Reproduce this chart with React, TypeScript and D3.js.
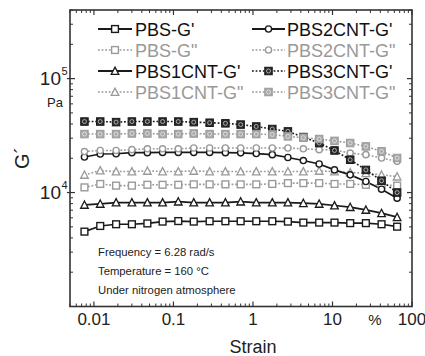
import React from "react";
import * as d3 from "d3";

const strain = [0.0076, 0.012, 0.019, 0.03, 0.047, 0.073, 0.115, 0.18, 0.285, 0.45, 0.7, 1.1, 1.75, 2.75, 4.3, 6.8, 10.6, 16.7, 26.3, 41.4, 65];

const PBS_Gp = [4540, 5090, 5270, 5270, 5360, 5560, 5620, 5560, 5600, 5600, 5600, 5600, 5600, 5560, 5450, 5450, 5450, 5390, 5390, 5270, 5020];
const PBS_Gpp = [11100, 11900, 11500, 11500, 11700, 11700, 11700, 11800, 11800, 11800, 11800, 11800, 11900, 12100, 12100, 12100, 11900, 11900, 11700, 11700, 11500];
const PBS1_Gp = [7800, 7960, 8170, 8170, 8170, 8170, 8330, 8170, 8170, 8170, 8330, 8170, 8170, 8170, 8070, 7960, 7700, 7450, 7050, 6590, 6080];
const PBS1_Gpp = [14300, 15600, 15300, 15300, 15500, 15300, 15300, 15500, 15300, 15300, 15300, 15300, 15300, 15300, 15300, 15500, 15300, 15000, 14800, 14300, 13800];
const PBS2_Gp = [20500, 21800, 21900, 22400, 22400, 22500, 22500, 22500, 22500, 22400, 22300, 22000, 21500, 20300, 19100, 17800, 15800, 14300, 12500, 10700, 8930];
const PBS2_Gpp = [22900, 23400, 23400, 23800, 24200, 24200, 24200, 24600, 24600, 24600, 24600, 24600, 24600, 24600, 24200, 23800, 23600, 22200, 21500, 20100, 18800];
const PBS3_Gp = [42000, 42000, 41500, 42000, 42000, 42000, 42000, 41500, 41000, 40500, 39500, 38000, 36100, 34400, 30700, 27200, 23400, 19400, 15800, 12700, 10000];
const PBS3_Gpp = [32600, 32600, 32600, 33000, 33000, 32600, 32600, 33000, 32600, 32600, 32600, 32600, 32300, 31100, 30300, 29500, 28400, 27200, 25400, 23000, 20100];

const xTicks = [0.01, 0.1, 1, 10, 100];
const xTickLabels = ["0.01", "0.1", "1", "10", "100"];
const yTicks = [10000, 100000];
const yTickExp = ["4", "5"];

const BLACK = "#1a1a1a";
const GRAY = "#9a9a9a";

type Shape = "square" | "circle" | "triangle" | "xsquare";
interface Series { name: string; values: number[]; color: string; dashed: boolean; shape: Shape; }

const series: Series[] = [
  { name: "PBS-G'", values: PBS_Gp, color: BLACK, dashed: false, shape: "square" },
  { name: "PBS-G\"", values: PBS_Gpp, color: GRAY, dashed: true, shape: "square" },
  { name: "PBS1CNT-G'", values: PBS1_Gp, color: BLACK, dashed: false, shape: "triangle" },
  { name: "PBS1CNT-G\"", values: PBS1_Gpp, color: GRAY, dashed: true, shape: "triangle" },
  { name: "PBS2CNT-G'", values: PBS2_Gp, color: BLACK, dashed: false, shape: "circle" },
  { name: "PBS2CNT-G\"", values: PBS2_Gpp, color: GRAY, dashed: true, shape: "circle" },
  { name: "PBS3CNT-G'", values: PBS3_Gp, color: BLACK, dashed: true, shape: "xsquare" },
  { name: "PBS3CNT-G\"", values: PBS3_Gpp, color: GRAY, dashed: true, shape: "xsquare" },
];

const L = 70, R = 412, T = 10, B = 306.5;
const x = d3.scaleLog().domain([0.005, 100]).range([L, R]);
const y = d3.scaleLog().domain([1000, 400000]).range([B, T]);

function Marker({ cx, cy, shape, color }: { cx: number; cy: number; shape: Shape; color: string }) {
  const s = 6.8;
  if (shape === "square")
    return <rect x={cx - s / 2} y={cy - s / 2} width={s} height={s} fill="white" stroke={color} strokeWidth={1.4} />;
  if (shape === "circle")
    return <circle cx={cx} cy={cy} r={3.1} fill="white" stroke={color} strokeWidth={1.4} />;
  if (shape === "triangle") {
    const h = 6.8;
    return <path d={`M${cx},${cy - h / 2 - 0.5} L${cx + h / 2 + 0.4},${cy + h / 2} L${cx - h / 2 - 0.4},${cy + h / 2} Z`} fill="white" stroke={color} strokeWidth={1.3} />;
  }
  const s2 = 7.5;
  return (
    <g>
      <rect x={cx - s2 / 2} y={cy - s2 / 2} width={s2} height={s2} fill={color === BLACK ? "#2a2a2a" : "#a8a8a8"} stroke={color} strokeWidth={1} />
      <circle cx={cx} cy={cy} r={2} fill="none" stroke={color === BLACK ? "#bbb" : "#e0e0e0"} strokeWidth={0.9} />
    </g>
  );
}

export default function App() {
  const line = d3.line<[number, number]>().x(d => x(d[0])).y(d => y(d[1]));
  const minorX: number[] = [];
  for (let e = -3; e <= 1; e++) for (let m = 2; m <= 9; m++) { const v = m * Math.pow(10, e); if (v >= 0.005 && v <= 100) minorX.push(v); }
  const minorY: number[] = [];
  for (let e = 3; e <= 5; e++) for (let m = 2; m <= 9; m++) { const v = m * Math.pow(10, e); if (v <= 400000) minorY.push(v); }

  const legendRows = [29, 50, 71, 92];
  const cols = [{ x1: 98, x2: 132, tx: 135 }, { x1: 252, x2: 285, tx: 287 }];

  return (
    <svg width={425} height={356} style={{ position: "absolute", left: 0, top: 0, background: "white" }} fontFamily="'Liberation Sans', Arial, sans-serif">
      {series.map((s, i) => (
        <path key={i} d={line(strain.map((v, k) => [v, s.values[k]] as [number, number])) || ""} fill="none" stroke={s.color} strokeWidth={s.dashed ? 1.6 : 1.7} strokeDasharray={s.dashed ? "1.8 1.8" : undefined} />
      ))}
      {series.map((s, i) => (
        <g key={"m" + i}>
          {strain.map((v, k) => <Marker key={k} cx={x(v)} cy={y(s.values[k])} shape={s.shape} color={s.color} />)}
        </g>
      ))}
      <rect x={L} y={T} width={R - L} height={B - T} fill="none" stroke="#333" strokeWidth={1.6} />
      {xTicks.map(t => (
        <g key={"xt" + t}>
          <line x1={x(t)} x2={x(t)} y1={B} y2={B - 5} stroke="#333" strokeWidth={1.2} />
          <line x1={x(t)} x2={x(t)} y1={T} y2={T + 5} stroke="#333" strokeWidth={1.2} />
        </g>
      ))}
      {minorX.map(t => (
        <g key={"xm" + t}>
          <line x1={x(t)} x2={x(t)} y1={B} y2={B - 3} stroke="#333" strokeWidth={1} />
          <line x1={x(t)} x2={x(t)} y1={T} y2={T + 3} stroke="#333" strokeWidth={1} />
        </g>
      ))}
      {yTicks.map(t => (
        <g key={"yt" + t}>
          <line x1={L - 3} x2={L + 5} y1={y(t)} y2={y(t)} stroke="#333" strokeWidth={1.2} />
          <line x1={R} x2={R - 5} y1={y(t)} y2={y(t)} stroke="#333" strokeWidth={1.2} />
        </g>
      ))}
      {minorY.map(t => (
        <g key={"ym" + t}>
          <line x1={L} x2={L + 3} y1={y(t)} y2={y(t)} stroke="#333" strokeWidth={1} />
          <line x1={R} x2={R - 3} y1={y(t)} y2={y(t)} stroke="#333" strokeWidth={1} />
        </g>
      ))}
      {xTicks.map((t, i) => (
        <text key={"xl" + t} x={x(t)} y={325} textAnchor="middle" fontSize={17} fill="#222">{xTickLabels[i]}</text>
      ))}
      <text x={375} y={325} textAnchor="middle" fontSize={15} fill="#222">%</text>
      {yTicks.map(t => (
        <text key={"yl" + t} x={61} y={y(t) + 6} textAnchor="end" fontSize={19} fill="#222">10</text>
      ))}
      {yTicks.map((t, i) => (
        <text key={"ye" + t} x={61.5} y={y(t) - 4} textAnchor="start" fontSize={11} fill="#222">{yTickExp[i]}</text>
      ))}
      <text x={63} y={107} textAnchor="end" fontSize={13} fill="#222">Pa</text>
      <text x={253} y={353} textAnchor="middle" fontSize={18} fill="#222">Strain</text>
      <text transform="translate(29,158) rotate(-90)" textAnchor="middle" fontSize={20} fill="#222">G´</text>
      {series.map((s, i) => {
        const col = cols[Math.floor(i / 4)];
        const ry = legendRows[i % 4];
        const mx = (col.x1 + col.x2) / 2;
        return (
          <g key={"lg" + i}>
            <line x1={col.x1} x2={col.x2} y1={ry} y2={ry} stroke={s.color} strokeWidth={s.dashed ? 1.6 : 1.9} strokeDasharray={s.dashed ? "1.8 1.8" : undefined} />
            <Marker cx={mx} cy={ry} shape={s.shape} color={s.color} />
            <text x={col.tx} y={ry + 6.5} fontSize={18} fill={s.color === BLACK ? "#111" : "#999"}>{s.name}</text>
          </g>
        );
      })}
      <text x={98} y={256} fontSize={11.3} fill="#222">Frequency = 6.28 rad/s</text>
      <text x={98} y={275} fontSize={11.3} fill="#222">Temperature = 160 °C</text>
      <text x={98} y={294} fontSize={11.3} fill="#222">Under nitrogen atmosphere</text>
    </svg>
  );
}
